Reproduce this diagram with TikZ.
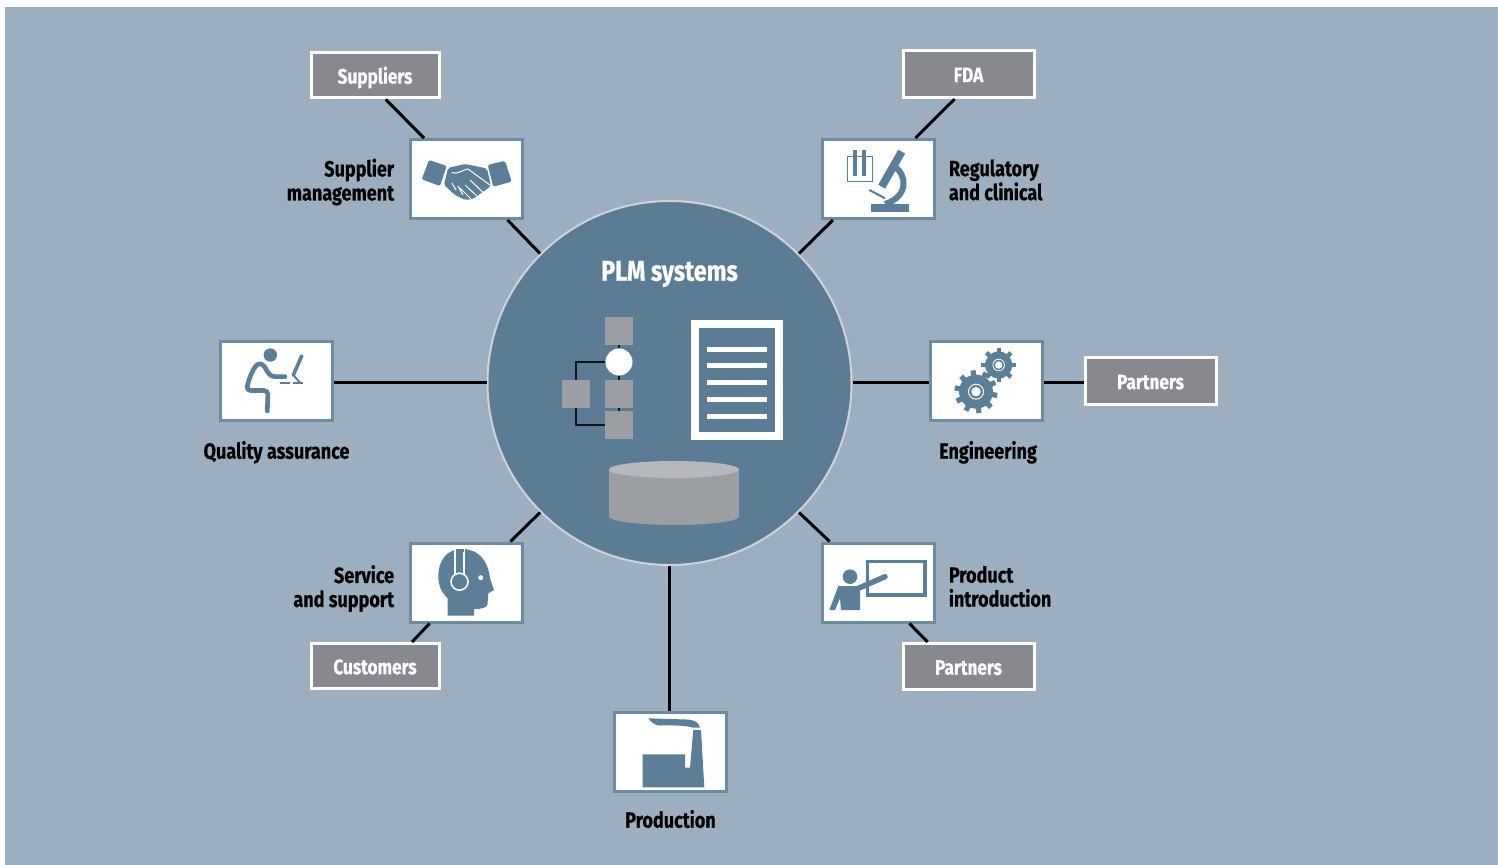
\documentclass[tikz,border=0pt]{standalone}
\usepackage{fontspec}
\setmainfont{Fira Sans}[FakeStretch=0.82,BoldFeatures={FakeBold=0.5}]
\usetikzlibrary{positioning}
\definecolor{bgblue}{HTML}{9CAFC1}
\definecolor{plmblue}{HTML}{5A7C95}
\definecolor{iconblue}{HTML}{5B7F98}
\definecolor{boxgray}{HTML}{87898E}
\definecolor{sqgray}{HTML}{9B9EA3}
\definecolor{topgray}{HTML}{B6B8BD}
\tikzset{
  iconbox/.style={draw=iconblue!90!white, fill=white, line width=1.5pt, minimum width=56pt, minimum height=39.5pt, inner sep=0pt},
  extbox/.style={draw=white, fill=boxgray, line width=1.5pt, inner sep=0pt, text=white, text height=8.2pt, text depth=0pt, font=\bfseries\fontsize{10.5}{12}\selectfont},
  lbl/.style={inner sep=0pt, font=\bfseries\fontsize{11}{12}\selectfont},
  link/.style={line width=1.5pt, black},
  icon/.style={fill=iconblue, draw=none},
  iconline/.style={draw=iconblue, line cap=round},
  sq/.style={fill=sqgray, draw=none, minimum size=14pt, inner sep=0pt},
  wire/.style={line width=0.8pt, draw=black!85!plmblue},
}
\begin{document}
\begin{tikzpicture}[x=0.5pt, y=-0.5pt]
  \useasboundingbox (0,0) rectangle (1498,865);
  \fill[bgblue] (5,7) rectangle (1498,865);

  \node [circle, draw=black!15!white!85!bgblue, fill=plmblue, line width=1pt, minimum size=182pt, inner sep=0pt] (plm) at (669.5,383) {};
  \node [inner sep=0pt, text=white, font=\bfseries\fontsize{14.3}{16}\selectfont] (plmt) at (669.5,274) {PLM systems};

  \node [iconbox] (sm) at (466.5,179) {};
  \node [iconbox] (rc) at (878.5,179) {};
  \node [iconbox] (qa) at (276.5,381) {};
  \node [iconbox] (en) at (986,381) {};
  \node [iconbox] (ss) at (466.5,582.5) {};
  \node [iconbox] (pi) at (878.5,582.5) {};
  \node [iconbox] (pd) at (670.5,752) {};

  \node [extbox, minimum width=64pt, minimum height=22.5pt] (sup) at (375,75.5) {Suppliers};
  \node [extbox, minimum width=65.5pt, minimum height=23.5pt] (fda) at (968.5,74) {FDA};
  \node [extbox, minimum width=65.5pt, minimum height=23.5pt] (par) at (1150.5,381) {Partners};
  \node [extbox, minimum width=64pt, minimum height=22.5pt] (cus) at (375,666) {Customers};
  \node [extbox, minimum width=65.5pt, minimum height=23pt] (pat) at (968.5,666.5) {Partners};

  \node [lbl, align=right, left=7.25pt of sm, yshift=-1.5pt] (sml) {Supplier\\management};
  \node [lbl, align=left, right=6.25pt of rc, yshift=-0.5pt] (rcl) {Regulatory\\and clinical};
  \node [lbl, below=9.25pt of qa] (qal) {Quality assurance};
  \node [lbl, below=9.25pt of en, xshift=1pt] (enl) {Engineering};
  \node [lbl, align=right, left=7.25pt of ss, yshift=-3pt] (ssl) {Service\\and support};
  \node [lbl, align=left, right=6.25pt of pi, yshift=-2pt] (pil) {Product\\introduction};
  \node [lbl, below=8.25pt of pd] (pdl) {Production};

  \draw [link] (plm.135) -- (sm.-45);
  \draw [link] (plm.45) -- (rc.222);
  \draw [link] (plm.-135) -- (ss.43);
  \draw [link] (plm.-45) -- (pi.140);
  \draw [link] (plm.west) -- (plm.west -| qa.east);
  \draw [link] (plm.east) -- (plm.east -| en.west);
  \draw [link] (plm.east -| en.east) -- (plm.east -| par.west);
  \draw [link] (plm.south) -- (plm.south |- pd.north);
  \draw [link] (sup.-66) -- (sm.136);
  \draw [link] (fda.-119) -- (rc.48);
  \draw [link] (cus.33) -- (ss.228);
  \draw [link] (pat.149) -- (pi.-53);

  % center
  \node [sq] (s1) at (619,331) {};
  \node [circle, fill=white, minimum size=13.5pt, inner sep=0pt] (s2) at (619,362) {};
  \node [sq] (s3) at (619,394) {};
  \node [sq] (s4) at (576,394) {};
  \node [sq] (s5) at (619,425) {};
  \draw [wire] (s1) -- (s2);
  \draw [wire] (s2) -- (s3);
  \draw [wire] (s3) -- (s5);
  \draw [wire] (s2) -| (s4);
  \draw [wire] (s5) -| (s4);
  \draw [white, line width=4pt] (694.5,324) rectangle (779,436);
  \foreach \y in {349.5,366,383,400,416.5}
    \fill [white] (707,\y-2.5) rectangle (767,\y+2.5);
  \fill [sqgray] (609,469.5) -- (609,516.5) arc [x radius=65, y radius=8.5, start angle=180, end angle=0] -- (739,469.5) -- cycle;
  \fill [topgray] (674,469.5) ellipse [x radius=65, y radius=8.5];

  % handshake
  \fill [iconblue, rounded corners=1pt] (429,160) -- (446.7,166) -- (440,186) -- (421.7,179.3) -- cycle;
  \fill [iconblue, rounded corners=1pt] (487.7,165) -- (505,160.7) -- (511.7,181.7) -- (493.3,186.7) -- cycle;
  \fill [icon, rounded corners=1pt] (448,168) -- (465,164) -- (487,168.5) -- (491,186) -- (473,199) -- (465,200) -- (455,195) -- (444,185) -- cycle;
  \draw [white, line width=0.5pt] (451.7,172.5) .. controls (457,175) and (462,170) .. (468,169) -- (490,185);
  \draw [white, line width=0.5pt] (470,180) -- (483.3,192.7) (465,185) -- (478,197) (460,188) -- (471,199) (452,183) -- (456,190) (458,186) -- (463,195);

  % microscope
  \draw [iconblue, line width=0.7pt] (847.5,156.7) rectangle (872.5,181.5);
  \foreach \x in {855,864}
    \draw [iconblue, line width=2.2pt] (\x,150) -- (\x,176.5);
  \draw [iconblue, line width=4pt] (901.7,151.7) -- (881.7,186.7);
  \draw [iconblue, line width=3pt] (895,167) .. controls (906,174) and (910,196) .. (885,204);
  \fill [iconblue] (870.7,204.3) rectangle (909,211.7);
  \draw [iconblue, line width=1pt] (869.3,190) -- (885,198.3);

  % person at desk
  \fill [iconblue] (270.3,355) circle [radius=6.7];
  \draw [iconline, line width=2.3pt, rounded corners=2pt] (285,376.7) -- (270.7,376.7) -- (261.7,362.5) .. controls (254,366) and (249,378) .. (246.5,390.5) -- (268,390.5) -- (267.3,411);
  \draw [iconline, line width=1.8pt] (301.7,356) -- (293.3,375);
  \draw [iconline, line width=1pt] (293.3,375) -- (300,382.7);
  \draw [iconblue, line width=1pt] (280,382.7) -- (290,382.7) (293.3,382.7) -- (303.3,382.7);

  % gears
  \fill [iconblue] (976,391.7) circle [radius=17];
  \foreach \a in {0,36,...,324}
    \draw [iconblue, line width=2.6pt] (976,391.7) ++(\a+10:14) -- ++(\a+10:7.5);
  \fill [iconblue] (998.7,365) circle [radius=13.5];
  \foreach \a in {0,45,...,315}
    \draw [iconblue, line width=2.2pt] (998.7,365) ++(\a:11) -- ++(\a:6.3);
  \draw [white, line width=0.5pt] (976,391.7) circle [radius=7.5];
  \fill [white] (976,391.7) circle [radius=4.7];
  \draw [white, line width=0.4pt] (998.7,365) circle [radius=5.8];
  \fill [white] (998.7,365) circle [radius=3.7];

  % head with headset
  \fill [icon] (447.7,615.7) -- (447.7,598.3) .. controls (441,592) and (438.3,585) .. (438.3,576.7) .. controls (438.3,560) and (447,549) .. (462,549) .. controls (478,549) and (488,560) .. (490,578.3) -- (494,590) -- (488.3,593.3) -- (487.5,604) .. controls (487,608) and (482,609) .. (474,609) -- (474,615.7) -- cycle;
  \draw [white, line width=0.7pt] (455,549) -- (455,574) (464,549) -- (464,574);
  \fill [iconblue] (455.5,548.5) rectangle (463.5,552);
  \draw [white, line width=0.8pt] (459.5,581.7) circle [radius=8.5];
  \fill [white] (480.7,577.7) circle [radius=2.5];

  % presenter
  \draw [iconblue, line width=1.7pt] (867.5,561.5) rectangle (925,595);
  \fill [iconblue] (850,576.7) circle [radius=7.3];
  \fill [icon] (838.3,586) -- (860,586) -- (860,610) -- (841,610) -- (840,598.3) -- (835,610) -- (829.3,610) -- cycle;
  \draw [iconline, line width=2.7pt] (859,588) -- (885,576.7);

  % factory
  \fill [icon] (642.7,754.3) -- (685,754.3) -- (685,767.7) -- (690,767.7) -- (693.3,730) -- (701,730) -- (704.3,787.3) -- (642.7,787.3) -- cycle;
  \fill [icon] (648.3,718.3) -- (686,719.5) .. controls (696,720) and (699,723) .. (700,727.7) -- (693,727.7) .. controls (685,725) and (672,725.5) .. (660,725.5) .. controls (655,725.5) and (651,722) .. (648.3,718.3) -- cycle;
\end{tikzpicture}
\end{document}
